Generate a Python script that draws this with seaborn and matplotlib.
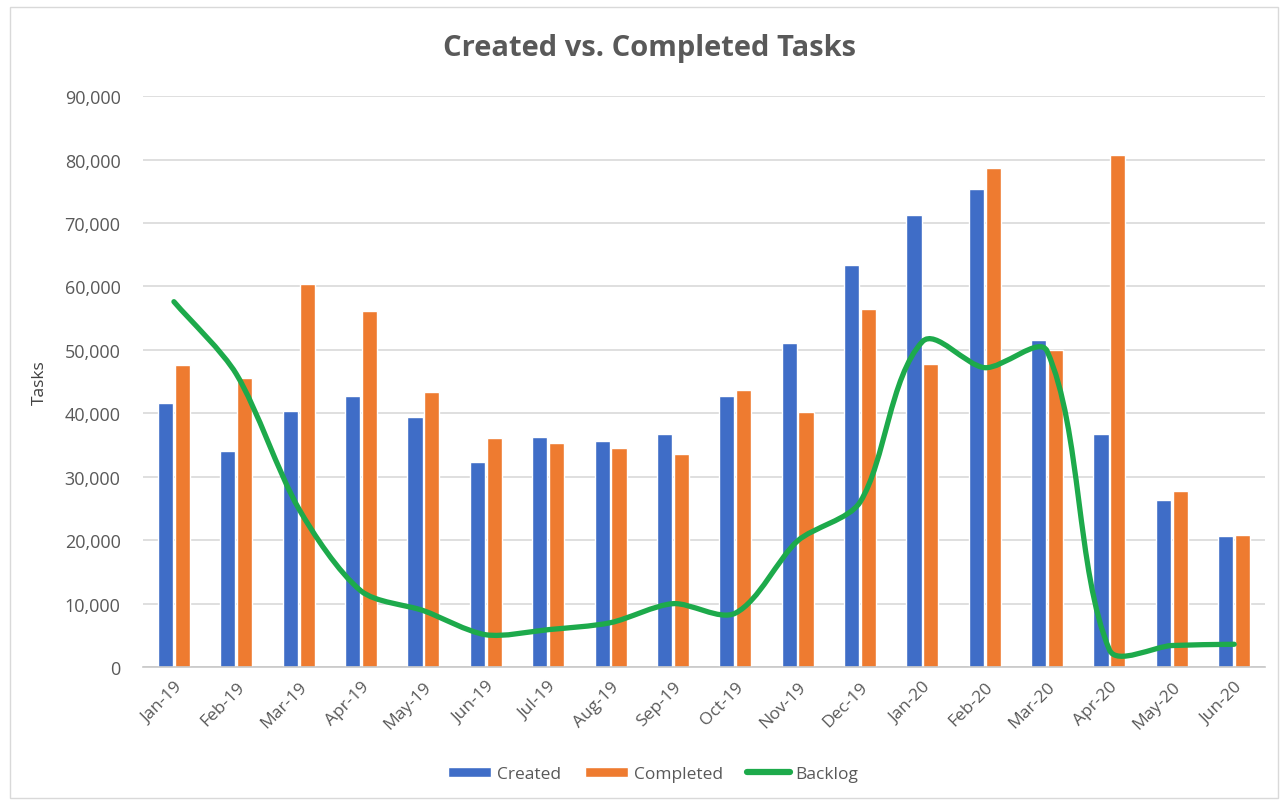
import numpy as np
import pandas as pd
import matplotlib
matplotlib.use('Agg')
import matplotlib.pyplot as plt
import seaborn as sns
from matplotlib.path import Path
from matplotlib.patches import PathPatch, Patch, Rectangle
from matplotlib.lines import Line2D
from matplotlib.ticker import FuncFormatter, FixedLocator

months = ['Jan-19', 'Feb-19', 'Mar-19', 'Apr-19', 'May-19', 'Jun-19', 'Jul-19', 'Aug-19', 'Sep-19',
          'Oct-19', 'Nov-19', 'Dec-19', 'Jan-20', 'Feb-20', 'Mar-20', 'Apr-20', 'May-20', 'Jun-20']
created = [41600, 34100, 40300, 42700, 39500, 32400, 36300, 35600, 36800,
           42800, 51100, 63400, 71200, 75400, 51500, 36800, 26300, 20600]
completed = [47600, 45500, 60400, 56100, 43400, 36100, 35400, 34600, 33600,
             43700, 40200, 56500, 47800, 78700, 50000, 80800, 27700, 20900]
backlog = [57600, 46200, 25000, 12000, 8900, 5100, 5900, 7000, 10000,
           8500, 19900, 26000, 51300, 47200, 49800, 2700, 3400, 3600]

blue = '#3F6DC7'
orange = '#EE7B30'
green = '#1DAA4B'
grey_txt = '#595959'

df = pd.DataFrame({
    'month': months * 2,
    'tasks': created + completed,
    'series': ['Created'] * len(months) + ['Completed'] * len(months),
})

sns.set_style('white')
plt.rcParams['font.family'] = ['Open Sans', 'DejaVu Sans']

fig = plt.figure(figsize=(12.86, 8.03), dpi=100)
ax = fig.add_axes([0.111, 0.168, 0.873, 0.711])

sns.barplot(data=df, x='month', y='tasks', hue='series', palette=[blue, orange],
            width=0.54, gap=0.1, ax=ax, legend=False, saturation=1)

ax.set_ylim(0, 90000)
ax.set_xlim(-0.5, len(months) - 0.5)

# smoothed backlog line: bezier segments built in screen space (Excel-like smoothing)
pts = ax.transData.transform(np.column_stack([np.arange(len(backlog)), backlog]).astype(float))
n = len(pts)
tang = []
for i in range(n):
    d = pts[min(i + 1, n - 1)] - pts[max(i - 1, 0)]
    tang.append(d / np.hypot(*d))
verts = [pts[0]]
codes = [Path.MOVETO]
for i in range(n - 1):
    seg = np.hypot(*(pts[i + 1] - pts[i])) * 0.28
    verts += [pts[i] + tang[i] * seg, pts[i + 1] - tang[i + 1] * seg, pts[i + 1]]
    codes += [Path.CURVE4] * 3
verts = ax.transData.inverted().transform(np.array(verts))
ax.add_patch(PathPatch(Path(verts, codes), facecolor='none', edgecolor=green,
                       lw=3.8, capstyle='round', joinstyle='round', zorder=5))

ax.set_yticks(range(0, 90001, 10000))
ax.yaxis.set_major_formatter(FuncFormatter(lambda v, p: f'{int(v):,}'))
ax.yaxis.grid(True, color='#D9D9D9', lw=1.2)
ax.set_axisbelow(True)
for s in ['top', 'right', 'left']:
    ax.spines[s].set_visible(False)
ax.spines['bottom'].set_color('#C8C8C8')
ax.spines['bottom'].set_linewidth(1.2)

ax.set_xlabel('')
ax.set_ylabel('Tasks', fontsize=12.5, color='#404040', labelpad=12)
ax.tick_params(axis='y', length=0, labelsize=13, labelcolor=grey_txt, pad=16)
ax.tick_params(axis='x', which='major', length=0, labelsize=12.5, labelcolor=grey_txt, pad=8)
ax.set_xticks(range(len(months)))
ax.set_xticklabels(months, rotation=45, ha='right', rotation_mode='anchor')
ax.xaxis.set_minor_locator(FixedLocator(np.arange(-0.5, len(months), 1)))
ax.tick_params(axis='x', which='minor', length=6, color='#C8C8C8', width=1.2, direction='out')

fig.text(0.505, 0.94, 'Created vs. Completed Tasks', fontsize=21, fontweight='bold',
         color=grey_txt, ha='center', va='center')

handles = [Patch(facecolor=blue), Patch(facecolor=orange), Line2D([], [], color=green, lw=4.5)]
fig.legend(handles, ['Created', 'Completed', 'Backlog'], loc='center', bbox_to_anchor=(0.508, 0.035),
           ncol=3, frameon=False, fontsize=12.5, labelcolor=grey_txt, handlelength=2.5,
           handleheight=0.55, columnspacing=1.4, handletextpad=0.3)

fig.add_artist(Rectangle((0.008, 0.005), 0.986, 0.985, transform=fig.transFigure,
                         fill=False, edgecolor='#D9D9D9', lw=1))

fig.savefig('out.png', dpi=100)
